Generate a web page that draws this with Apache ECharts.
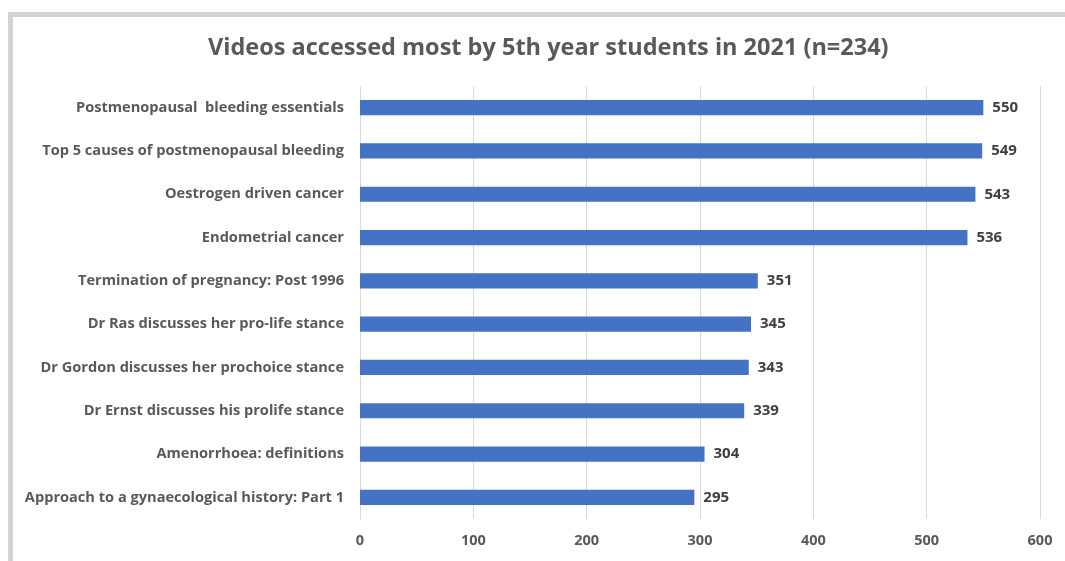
<!DOCTYPE html>
<html>
<head>
<meta charset="utf-8">
<script src="https://cdn.jsdelivr.net/npm/echarts@6/dist/echarts.min.js"></script>
<style>
html,body{margin:0;padding:0;background:#fff;overflow:hidden;}
#frame{position:absolute;left:8px;top:12px;width:1100px;height:600px;border:5px solid #d2d2d2;box-sizing:border-box;}
#chart{position:absolute;left:0;top:0;width:1065px;height:561px;}
</style>
</head>
<body>
<div id="frame"></div>
<div id="chart"></div>
<script>
const categories = [
  "Postmenopausal  bleeding essentials",
  "Top 5 causes of postmenopausal bleeding",
  "Oestrogen driven cancer",
  "Endometrial cancer",
  "Termination of pregnancy: Post 1996",
  "Dr Ras discusses her pro-life stance",
  "Dr Gordon discusses her prochoice stance",
  "Dr Ernst discusses his prolife stance",
  "Amenorrhoea: definitions",
  "Approach to a gynaecological history: Part 1"
];
const views = [550, 549, 543, 536, 351, 345, 343, 339, 304, 295];
const titleText = "Videos accessed most by 5th year students in 2021 (n=234)";
const axisMin = 0, axisMax = 600, axisStep = 100;

const font = "'Open Sans', 'Noto Sans', sans-serif";
const chart = echarts.init(document.getElementById('chart'));
chart.setOption({
  backgroundColor: 'transparent',
  animation: false,
  title: {
    text: titleText,
    left: 203,
    top: 31,
    textStyle: {fontFamily: font, fontSize: 23.5, fontWeight: 'bold', color: '#595959'}
  },
  grid: {left: 360, right: 25, top: 86, bottom: 42, containLabel: false},
  xAxis: {
    type: 'value', min: axisMin, max: axisMax, interval: axisStep,
    axisLine: {show: false}, axisTick: {show: false},
    splitLine: {lineStyle: {color: '#d9d9d9', width: 1}},
    axisLabel: {fontFamily: font, fontSize: 14.5, fontWeight: 'bold', color: '#595959', margin: 14}
  },
  yAxis: {
    type: 'category', data: categories.slice().reverse(), inverse: false,
    axisLine: {show: true, lineStyle: {color: '#d9d9d9'}}, axisTick: {show: false},
    axisLabel: {fontFamily: font, fontSize: 14.6, fontWeight: 'bold', color: '#595959', margin: 16}
  },
  series: [{
    type: 'bar',
    data: views.slice().reverse(),
    barWidth: '35%',
    itemStyle: {color: '#4472C4'},
    label: {show: true, position: 'right', distance: 9, fontFamily: font, fontSize: 15, fontWeight: 'bold', color: '#404040'}
  }]
});
</script>
</body>
</html>
